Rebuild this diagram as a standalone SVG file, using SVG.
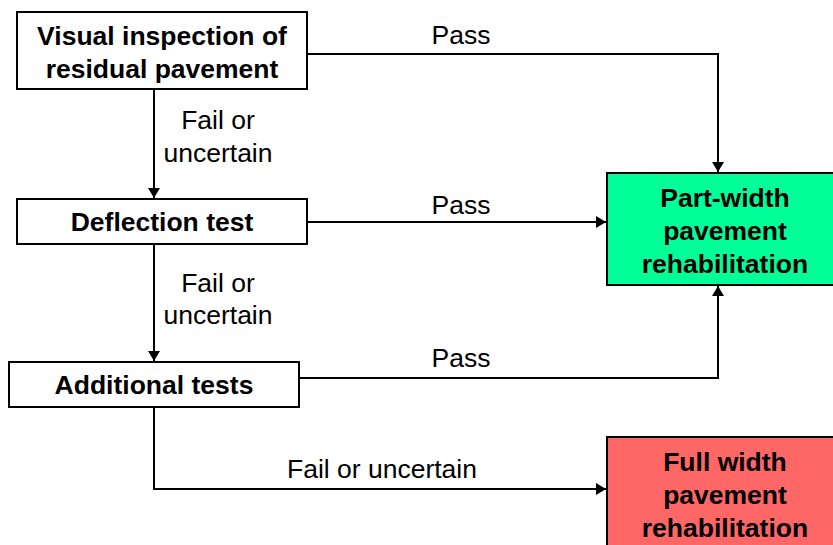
<svg xmlns="http://www.w3.org/2000/svg" width="833" height="545" viewBox="0 0 833 545">
<style>
.box{fill:#fff;stroke:#000;stroke-width:2}
.t{font-family:"Liberation Sans",Arial,sans-serif;font-size:26.5px;font-weight:bold;text-anchor:middle;fill:#000}
.l{font-family:"Liberation Sans",Arial,sans-serif;font-size:26.5px;text-anchor:middle;fill:#000}
.c{fill:none;stroke:#000;stroke-width:2}
</style>
<defs>
<marker id="a" viewBox="0 0 10 12" refX="10" refY="6" markerWidth="10" markerHeight="12" orient="auto" markerUnits="userSpaceOnUse">
<path d="M0,0 L10,6 L0,12 Z" fill="#000"/>
</marker>
</defs>
<g id="connectors">
<path class="c" d="M307,54 H718 V172" marker-end="url(#a)"/>
<path class="c" d="M154,89 V198" marker-end="url(#a)"/>
<path class="c" d="M307,222 H606" marker-end="url(#a)"/>
<path class="c" d="M154,244 V361" marker-end="url(#a)"/>
<path class="c" d="M299,378 H718 V286" marker-end="url(#a)"/>
<path class="c" d="M154,407 V489 H606" marker-end="url(#a)"/>
<text class="l" x="461" y="44">Pass</text>
<text class="l" x="461" y="214">Pass</text>
<text class="l" x="461" y="367">Pass</text>
<text class="l" x="218" y="129">Fail or</text>
<text class="l" x="218" y="162">uncertain</text>
<text class="l" x="218" y="292">Fail or</text>
<text class="l" x="218" y="324">uncertain</text>
<text class="l" x="382" y="478">Fail or uncertain</text>
</g>
<g id="visual">
<rect class="box" x="17" y="12" width="290" height="77"/>
<text class="t" x="162" y="45">Visual inspection of</text>
<text class="t" x="162" y="78">residual pavement</text>
</g>
<g id="deflection">
<rect class="box" x="17" y="199" width="290" height="45"/>
<text class="t" x="162" y="231">Deflection test</text>
</g>
<g id="additional">
<rect class="box" x="9" y="362" width="290" height="45"/>
<text class="t" x="154" y="394">Additional tests</text>
</g>
<g id="partwidth">
<rect x="607" y="173" width="230" height="112" fill="#00ff99" stroke="#000" stroke-width="2"/>
<text class="t" x="725" y="207">Part-width</text>
<text class="t" x="725" y="240">pavement</text>
<text class="t" x="725" y="273">rehabilitation</text>
</g>
<g id="fullwidth">
<rect x="607" y="437" width="230" height="112" fill="#ff6666" stroke="#000" stroke-width="2"/>
<text class="t" x="725" y="471">Full width</text>
<text class="t" x="725" y="504">pavement</text>
<text class="t" x="725" y="537">rehabilitation</text>
</g>
</svg>
